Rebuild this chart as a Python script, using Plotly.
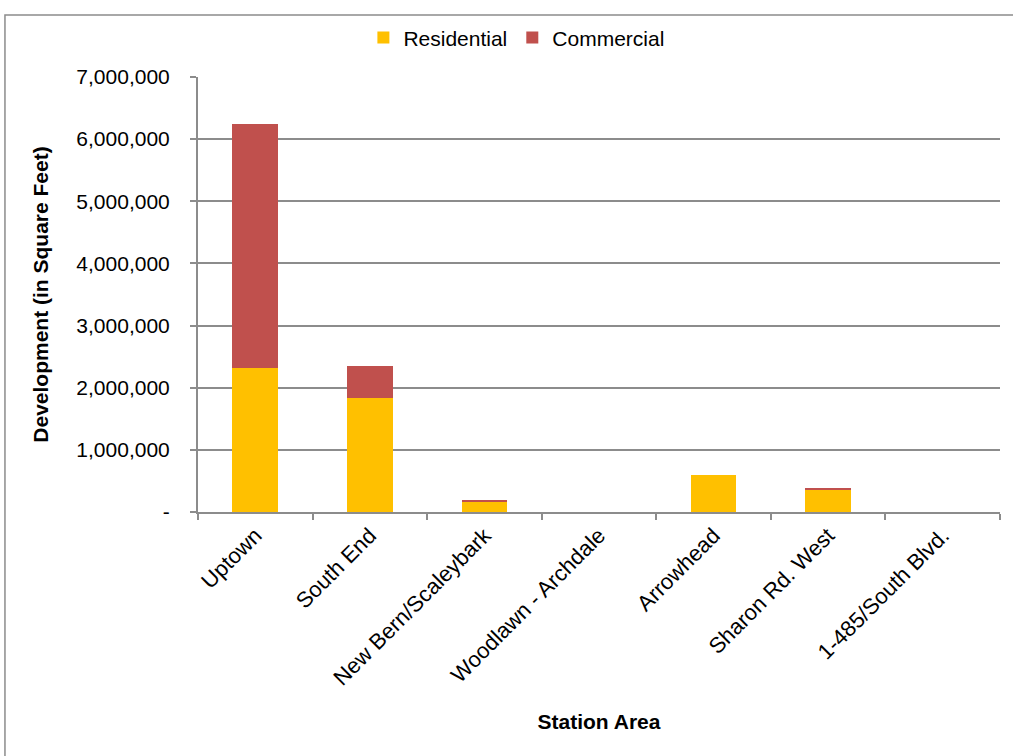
import plotly.graph_objects as go

categories = ["Uptown", "South End", "New Bern/Scaleybark", "Woodlawn - Archdale",
              "Arrowhead", "Sharon Rd. West", "1-485/South Blvd."]
residential = [2320000, 1840000, 153000, 0, 600000, 362000, 0]
commercial = [3930000, 504000, 44000, 0, 0, 32000, 0]
y_tickvals = [0, 1000000, 2000000, 3000000, 4000000, 5000000, 6000000, 7000000]
y_ticktext = ["-", "1,000,000", "2,000,000", "3,000,000", "4,000,000",
              "5,000,000", "6,000,000", "7,000,000"]

FONT = "Liberation Sans, Arial, sans-serif"
GRAY = "#8c8c8c"

fig = go.Figure()
fig.add_trace(go.Bar(name="Residential", x=categories, y=residential,
                     marker=dict(color="#FFC000", line=dict(width=0))))
fig.add_trace(go.Bar(name="Commercial", x=categories, y=commercial,
                     marker=dict(color="#C0504D", line=dict(width=0))))

fig.update_layout(
    width=1013, height=756,
    barmode="stack", bargap=0.6,
    paper_bgcolor="white", plot_bgcolor="white",
    margin=dict(l=198, r=13, t=77, b=244, autoexpand=False),
    font=dict(family=FONT, size=21, color="black"),
    legend=dict(orientation="h", x=0.397, xanchor="center", y=1.09, yanchor="middle",
                font=dict(size=21), itemwidth=30, traceorder="normal",
                bgcolor="rgba(0,0,0,0)"),
    showlegend=True,
)
fig.update_xaxes(
    type="category", tickangle=-45, tickson="boundaries",
    ticks="outside", ticklen=6, tickcolor=GRAY, tickwidth=1.5,
    showline=True, linecolor=GRAY, linewidth=2,
    showgrid=False, automargin=False,
    tickfont=dict(size=22),
    title=dict(text="<b>Station Area</b>", font=dict(size=21), standoff=25),
)
fig.update_yaxes(
    range=[0, 7000000], tickvals=y_tickvals, ticktext=y_ticktext,
    ticks="outside", ticklen=6, tickcolor=GRAY, tickwidth=1.5,
    showline=True, linecolor=GRAY, linewidth=2,
    showgrid=True, gridcolor=GRAY, gridwidth=1.5,
    zeroline=False, automargin=False,
    tickfont=dict(size=21), ticklabelstandoff=16,
    title=dict(text="<b>Development (in Square Feet)</b>", font=dict(size=21), standoff=22),
)
# outer chart frame (extends past the visible crop on right and bottom)
fig.add_shape(type="rect", xref="paper", yref="paper",
              x0=-0.2407, x1=1.03, y0=-0.6, y1=1.1425,
              line=dict(color=GRAY, width=1.5), fillcolor="rgba(0,0,0,0)", layer="below")
fig.write_html("out.html", config={"displayModeBar": False},
               post_script="document.body.style.margin='0px';")
